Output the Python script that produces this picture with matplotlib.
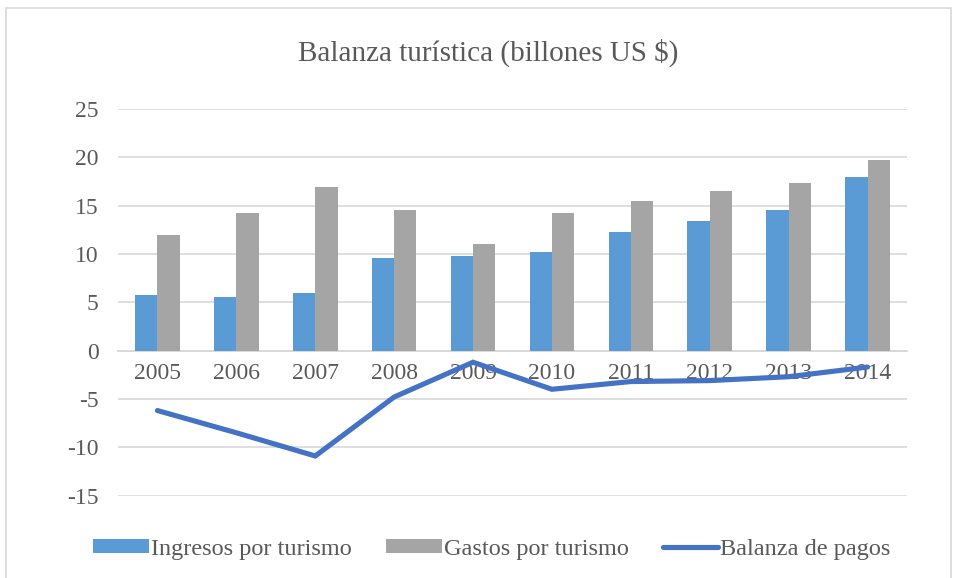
import matplotlib.pyplot as plt
import numpy as np
from matplotlib.patches import Rectangle

years = ["2005", "2006", "2007", "2008", "2009", "2010", "2011", "2012", "2013", "2014"]
ingresos = [5.8, 5.5, 6.0, 9.6, 9.8, 10.2, 12.3, 13.4, 14.5, 18.0]
gastos = [12.0, 14.2, 16.9, 14.5, 11.0, 14.2, 15.5, 16.5, 17.3, 19.7]
balanza = [-6.2, -8.5, -10.9, -4.8, -1.2, -4.0, -3.2, -3.1, -2.7, -1.7]

BLUE = "#5B9BD5"
GRAY = "#A5A5A5"
LINE = "#4472C4"
TEXT = "#595959"
GRID = "#D9D9D9"

plt.rcParams["font.family"] = ["Liberation Serif", "DejaVu Serif"]
plt.rcParams["axes.unicode_minus"] = False

fig = plt.figure(figsize=(9.56, 5.78), dpi=100)
ax = fig.add_axes([118 / 956, 1 - 495.6 / 578, 789 / 956, 386.6 / 578])

# chart area border
fig.patches.append(Rectangle((6 / 956, -0.05), 945 / 956, 1.05 - 8 / 578,
                             transform=fig.transFigure, fill=False,
                             edgecolor=GRID, linewidth=1.2))

x = np.arange(len(years))
w = 0.283
b1 = ax.bar(x - w / 2, ingresos, w, color=BLUE, label="Ingresos por turismo", zorder=2)
b2 = ax.bar(x + w / 2, gastos, w, color=GRAY, label="Gastos por turismo", zorder=2)
ln, = ax.plot(x, balanza, color=LINE, linewidth=3.7, solid_capstyle="round",
              solid_joinstyle="miter", label="Balanza de pagos", zorder=3)

ax.set_xlim(-0.5, len(years) - 0.5)
ax.set_ylim(-15, 25)
ax.set_yticks(range(-15, 26, 5))
ax.yaxis.grid(True, color=GRID, linewidth=1.2, zorder=0)
ax.set_axisbelow(True)

for side in ["left", "right", "top"]:
    ax.spines[side].set_visible(False)
ax.spines["bottom"].set_position(("data", 0))
ax.spines["bottom"].set_color(GRID)
ax.spines["bottom"].set_linewidth(1.3)
ax.spines["bottom"].set_zorder(1)

ax.set_xticks(x)
ax.set_xticklabels(years)
ax.tick_params(axis="x", length=0, pad=9, labelsize=17, labelcolor=TEXT)
ax.tick_params(axis="y", length=0, pad=14, labelsize=17, labelcolor=TEXT)

fig.text(488 / 956, 1 - 61 / 578, "Balanza turística (billones US $)",
         ha="center", va="baseline", fontsize=21, color=TEXT)

leg = fig.legend(handles=[b1, b2, ln], loc="center",
                 bbox_to_anchor=(492 / 956, 1 - 549 / 578),
                 ncol=3, frameon=False, fontsize=17.5, handlelength=2.3,
                 handleheight=0.5, handletextpad=0.08, columnspacing=1.4)
for t in leg.get_texts():
    t.set_color(TEXT)

fig.savefig("out.png", dpi=100)
